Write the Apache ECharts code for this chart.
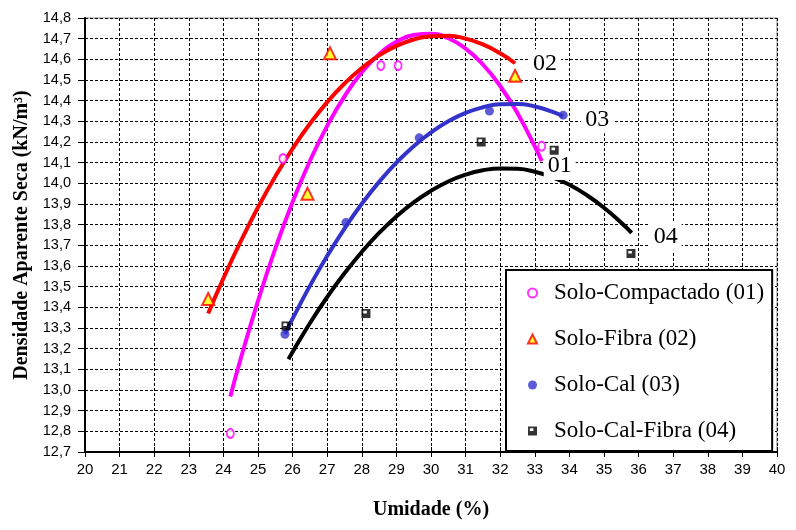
<!DOCTYPE html>
<html><head><meta charset="utf-8">
<script src="https://cdn.jsdelivr.net/npm/echarts@6/dist/echarts.min.js"></script>
<style>html,body{margin:0;padding:0;background:#fff}#c{width:796px;height:530px}</style>
</head><body><div id="c"></div>
<script>
// Measured points
const ptsCompactado = [[24.2,12.79],[25.72,14.12],[28.55,14.57],[29.05,14.57],[33.2,14.18]];
const ptsFibra = [[23.56,13.44],[26.43,13.95],[27.08,14.63],[32.43,14.52]];
const ptsCal = [[25.78,13.27],[27.54,13.81],[29.66,14.22],[31.69,14.35],[33.82,14.33]];
const ptsCalFibra = [[25.81,13.31],[28.12,13.37],[31.45,14.20],[33.56,14.16],[35.78,13.66]];
// Trend curves
const curve01 = [[24.2,12.969],[24.5,13.151],[25.0,13.431],[25.5,13.684],[26.0,13.910],[26.5,14.108],[27.0,14.278],[27.5,14.421],[28.0,14.537],[28.5,14.625],[29.0,14.685],[29.5,14.718],[30.0,14.724],[30.5,14.702],[31.0,14.652],[31.5,14.575],[32.0,14.471],[32.5,14.339],[33.0,14.179],[33.2,14.108]];
const curve02 = [[23.56,13.370],[24.0,13.540],[24.5,13.719],[25.0,13.884],[25.5,14.033],[26.0,14.168],[26.5,14.288],[27.0,14.393],[27.5,14.483],[28.0,14.558],[28.5,14.619],[29.0,14.665],[29.5,14.696],[30.0,14.712],[30.5,14.714],[31.0,14.700],[31.5,14.672],[32.0,14.629],[32.43,14.581]];
const curve03 = [[25.78,13.271],[26.0,13.345],[26.5,13.504],[27.0,13.649],[27.5,13.781],[28.0,13.901],[28.5,14.007],[29.0,14.100],[29.5,14.180],[30.0,14.246],[30.5,14.300],[31.0,14.341],[31.5,14.368],[32.0,14.383],[32.5,14.384],[33.0,14.372],[33.5,14.347],[33.82,14.324]];
const curve04 = [[25.88,13.149],[26.0,13.184],[26.5,13.323],[27.0,13.450],[27.5,13.565],[28.0,13.668],[28.5,13.760],[29.0,13.840],[29.5,13.908],[30.0,13.964],[30.5,14.009],[31.0,14.042],[31.5,14.063],[32.0,14.072],[32.5,14.070],[33.0,14.056],[33.5,14.030],[34.0,13.993],[34.5,13.943],[35.0,13.882],[35.5,13.809],[35.8,13.760]];
const seriesNames = ['Solo-Compactado (01)','Solo-Fibra (02)','Solo-Cal (03)','Solo-Cal-Fibra (04)'];
const curveLabels = ['01','02','03','04'];

const serif = '"Liberation Serif","Times New Roman",serif';
const sans = '"Liberation Sans",Arial,sans-serif';
const squareIcon = 'path://M0,0H10V10H0Z M2,2V5H6V2Z';
const chart = echarts.init(document.getElementById('c'));
function curve(data, color, label, off){
  return {type:'line', data:data, showSymbol:false, symbol:'none', smooth:true, silent:true,
    lineStyle:{color:color,width:4}, z:3,
    endLabel:{show:true, formatter:label, fontFamily:serif, fontSize:24, color:'#000',
      backgroundColor:'#fff', padding:[2,4], distance:off[0], offset:[0,off[1]]}};
}
chart.setOption({
  animation:false,
  grid:{left:85,right:19,top:18,bottom:78,show:true,borderColor:'#888',borderWidth:1},
  legend:{
    orient:'vertical', left:506, top:270, data:seriesNames,
    backgroundColor:'#fff', borderColor:'#000', borderWidth:2,
    padding:[11,8,8,21], itemGap:22, itemWidth:9, itemHeight:9,
    textStyle:{fontFamily:serif, fontSize:23, color:'#000', lineHeight:24, padding:[0,0,0,12]}
  },
  xAxis:[{
    type:'value', min:20, max:40, interval:1,
    name:'Umidade (%)', nameLocation:'middle', nameGap:48,
    nameTextStyle:{fontFamily:serif, fontWeight:'bold', fontSize:20, color:'#000'},
    axisLine:{lineStyle:{color:'#000',width:2}},
    axisTick:{length:5,lineStyle:{color:'#000'}},
    axisLabel:{fontFamily:sans, fontSize:15, color:'#000', margin:10},
    splitLine:{show:true,lineStyle:{color:'#000',type:[3,2],width:1}}
  },{
    type:'value', min:20, max:40, interval:1, position:'bottom',
    axisLine:{show:false}, axisLabel:{show:false}, splitLine:{show:false},
    axisTick:{inside:true,length:5,lineStyle:{color:'#000'}}
  }],
  yAxis:{
    type:'value', min:12.7, max:14.8, interval:0.1,
    name:'Densidade Aparente Seca (kN/m³)', nameLocation:'middle', nameGap:53,
    nameTextStyle:{fontFamily:serif, fontWeight:'bold', fontSize:20, color:'#000'},
    axisLine:{show:true,lineStyle:{color:'#000',width:2}},
    axisTick:{show:true,length:7,lineStyle:{color:'#000'}},
    axisLabel:{fontFamily:sans, fontSize:14.5, color:'#000', margin:14,
      formatter:v=>v.toFixed(1).replace('.',',')},
    splitLine:{show:true,lineStyle:{color:'#000',type:[3,2],width:1}}
  },
  series:[
    curve(curve01,'#FF00FF',curveLabels[0],[2,5]),
    curve(curve02,'#FF0000',curveLabels[1],[14,0]),
    curve(curve03,'#3333CC',curveLabels[2],[18,3]),
    curve(curve04,'#000000',curveLabels[3],[18,4]),
    {type:'scatter', name:seriesNames[0], data:ptsCompactado, symbol:'circle', symbolSize:[7,9],
      itemStyle:{color:'#fff',borderColor:'#FF00FF',borderWidth:2}, z:5},
    {type:'scatter', name:seriesNames[1], data:ptsFibra, symbol:'triangle', symbolSize:12,
      itemStyle:{color:'#FFFF00',borderColor:'#FF0000',borderWidth:2}, z:5},
    {type:'scatter', name:seriesNames[2], data:ptsCal, symbol:'circle', symbolSize:9,
      itemStyle:{color:'#3333CC'}, z:5},
    {type:'scatter', name:seriesNames[3], data:ptsCalFibra, symbol:squareIcon, symbolSize:9,
      itemStyle:{color:'#000'}, z:5}
  ]
});
</script></body></html>
